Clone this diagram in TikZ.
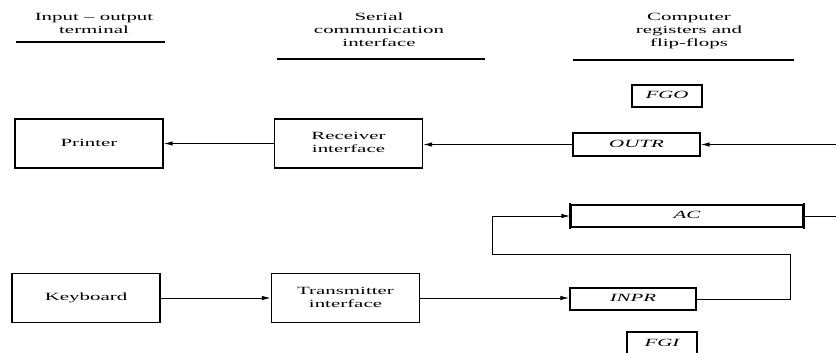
\documentclass[tikz,border=0pt]{standalone}
\usepackage{fontspec}
\setmainfont{Liberation Serif}
\usepackage{graphicx}
\usepackage{tikz}
\usetikzlibrary{arrows,arrows.meta,positioning,calc}

\newcommand{\widetext}[1]{\scalebox{1.9}[1]{\begin{tabular}{@{}c@{}}#1\end{tabular}}}

\tikzset{
	unitbox/.style={shape=rectangle,draw,line width=1.3pt,inner sep=0pt,minimum width=148pt,minimum height=49pt},
	regbox/.style={shape=rectangle,draw,line width=1.3pt,inner sep=0pt,minimum height=22pt},
	heading/.style={anchor=north,inner sep=0pt},
	arr/.style={-{Latex[length=9pt,width=4.5pt]},line width=1pt},
	wire/.style={line width=1pt}
}

\begin{document}
\begin{tikzpicture}[x=1pt,y=-1pt,font=\fontsize{11}{13}\selectfont]
				\useasboundingbox (0,0) rectangle (836,353);
				
				%headings
				\draw (94,11) node [heading] (hterm) {\widetext{Input -- output\\terminal}};
				\draw (379,11) node [heading] (hser) {\widetext{Serial\\communication\\interface}};
				\draw (689,11) node [heading] (hcomp) {\widetext{Computer\\registers and\\flip-flops}};
				\draw [line width=1.2pt] (16,42) to (165,42);
				\draw [line width=1.2pt] (277,59) to (485,59);
				\draw [line width=1.2pt] (573,60) to (794,60);
				
				%units
				\draw (89,143.5) node [unitbox] (printer) {\widetext{Printer}};
				\draw (348.5,143.5) node [unitbox] (recv) {\widetext{Receiver\\interface}};
				\draw (86,298) node [unitbox] (keyb) {\widetext{Keyboard}};
				\draw (345.5,298) node [unitbox] (trans) {\widetext{Transmitter\\interface}};
				
				%registers
				\draw (667,96) node [regbox,minimum width=70pt] (fgo) {\widetext{\itshape FGO}};
				\draw (636.5,144.5) node [regbox,minimum width=127pt,minimum height=23pt] (outr) {\widetext{\itshape OUTR}};
				\draw (687,216) node [regbox,minimum width=232pt] (ac) {\widetext{\itshape AC}};
				\draw (633,299) node [regbox,minimum width=126pt] (inpr) {\widetext{\itshape INPR}};
				\draw (662,344) node [regbox,minimum width=70pt,minimum height=24pt] (fgi) {\widetext{\itshape FGI}};
				\draw [line width=2.2pt] ([yshift=1pt]ac.north west) to ([yshift=-1pt]ac.south west);
				\draw [line width=2.2pt] ([yshift=1pt]ac.north east) to ([yshift=-1pt]ac.south east);
				
				%free ends
				\coordinate (outin) at (836,144.5);
				\coordinate (acout) at (836,216);
				
				%connectors
				\draw [arr] (outin) to (outr.east);
				\draw [arr] (outr.west) to (outr.west -| recv.east);
				\draw [arr] (recv.west) to (printer.east);
				\draw [arr] (keyb.east) to (trans.west);
				\draw [arr] (trans.east) to (trans.east -| inpr.west);
				\draw [arr] (inpr.east) -- ++(94,0) -- ++(0,-45) -- (492,254) |- (ac.west);
				\draw [wire] (ac.east) to (acout);
\end{tikzpicture}
\end{document}
